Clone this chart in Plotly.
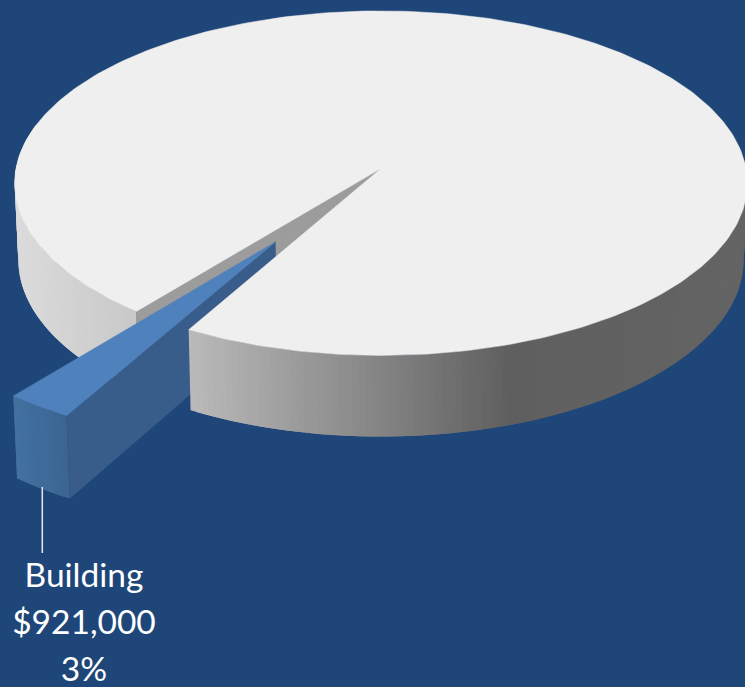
import math
import plotly.graph_objects as go

# Pie data
labels = ["Building", "All other"]
values = [921000, 33900000]
exploded = [0.5, 0.0]
label_lines = ["Building", "$921,000", "3%"]

# Palette
BACKGROUND = "#1F4679"
TOP_GREY = "#EFEFEF"
CUT_GREY = "#9C9C9C"
TOP_BLUE = "#4F81BD"
CUT_BLUE = "#385D8A"
WALL_BLUE_STOPS = [(0.0, (66, 113, 160)), (1.0, (60, 100, 147))]
WALL_GREY_STOPS = [(15, 219), (137, 200), (189, 186), (510, 95), (745, 100)]

# View of the disc: tilted plane seen in perspective
WIDTH, HEIGHT = 745, 687
CX, CY = 381, 168.5
RX, RY = 365, 171
PERSPECTIVE = 0.085
DEPTH = 76
FLOOR_SCALE = 0.99
FIRST_ANGLE = 209.2


def project(u, v, floor=False):
    s = 1 / (1 + PERSPECTIVE * v)
    x = CX + RX * u * s
    y = CY - RY * v * s
    if floor:
        x = CX + (x - CX) * FLOOR_SCALE
        y = CY + (y - CY) * FLOOR_SCALE + DEPTH * s
    return x, y


def polar(theta, radius=1.0, offset=(0.0, 0.0)):
    t = math.radians(theta)
    return offset[0] + radius * math.sin(t), offset[1] + radius * math.cos(t)


def grey_at(x):
    for (x0, g0), (x1, g1) in zip(WALL_GREY_STOPS, WALL_GREY_STOPS[1:]):
        if x <= x1:
            f = max(0.0, (x - x0) / (x1 - x0))
            g = round(g0 + (g1 - g0) * f)
            return f"rgb({g},{g},{g})"
    g = WALL_GREY_STOPS[-1][1]
    return f"rgb({g},{g},{g})"


fig = go.Figure()


def polygon(points, color, edge=0.5):
    xs = [p[0] for p in points] + [points[0][0]]
    ys = [p[1] for p in points] + [points[0][1]]
    fig.add_trace(go.Scatter(
        x=xs, y=ys, mode="lines", fill="toself", fillcolor=color,
        line=dict(color=color, width=edge), hoverinfo="skip",
    ))


def arc(a0, a1, step=1.0, offset=(0.0, 0.0), floor=False):
    n = max(1, int(abs(a1 - a0) / step))
    return [project(*polar(a0 + (a1 - a0) * i / n, offset=offset), floor=floor)
            for i in range(n + 1)]


def band(a0, a1, limit, color_for, offset=(0.0, 0.0)):
    """One wall band; it runs on under the next band so no seam shows."""
    stop = a1 + (a1 - a0)
    stop = min(stop, limit) if a1 > a0 else max(stop, limit)
    top = arc(a0, stop, step=0.5, offset=offset)
    low = arc(a0, stop, step=0.5, offset=offset, floor=True)
    polygon(top + low[::-1], color_for, edge=0)


def wall(a0, a1, step=1.0):
    """Shaded outer wall of the disc, one thin band per step of angle."""
    n = max(1, int(abs(a1 - a0) / step))
    for i in range(n):
        b0 = a0 + (a1 - a0) * i / n
        b1 = a0 + (a1 - a0) * (i + 1) / n
        x0, _ = project(*polar(b0))
        x1, _ = project(*polar(b1))
        band(b0, b1, a1, grey_at((x0 + x1) / 2))


# Slice angles follow from the values
total = sum(values)
sweep = 360 * values[0] / total
a_start = FIRST_ANGLE
a_end = FIRST_ANGLE + sweep
a_mid = (a_start + a_end) / 2
pull = polar(a_mid, exploded[0])

# Large slice, parts lying behind the pulled slice
wall(a_end, 285)
rim = polar(a_end)
polygon([project(0, 0), project(*rim), project(*rim, floor=True), project(0, 0, floor=True)], CUT_GREY)

# Pulled slice: shaded outer face, cut face, top
bands = 10
(_, blue_left), (_, blue_right) = WALL_BLUE_STOPS
for i in range(bands):
    b0 = a_start + sweep * i / bands
    b1 = a_start + sweep * (i + 1) / bands
    f = 1 - (i + 0.5) / bands
    rgb = tuple(round(p + (q - p) * f) for p, q in zip(blue_left, blue_right))
    band(b0, b1, a_end, "rgb(%d,%d,%d)" % rgb, offset=pull)

rim0 = polar(a_start, offset=pull)
polygon([project(*pull), project(*rim0), project(*rim0, floor=True), project(*pull, floor=True)], CUT_BLUE)
polygon([project(*pull)] + arc(a_start, a_end, offset=pull), TOP_BLUE)

# Large slice, near wall and top surface
wall(a_start, 75)
polygon([project(0, 0)] + arc(a_end, a_start + 360), TOP_GREY)

# Leader line and data label
fig.add_trace(go.Scatter(
    x=[42.3, 42.3], y=[487, 553], mode="lines",
    line=dict(color="#E4E9F0", width=1.5), hoverinfo="skip",
))
fig.add_trace(go.Scatter(
    x=[84, 84, 84], y=[579, 626, 673], mode="text", text=label_lines,
    textposition="middle center", cliponaxis=False,
    textfont=dict(family="Lato", size=33.5, color="white"), hoverinfo="skip",
))

fig.update_layout(
    width=WIDTH, height=HEIGHT,
    margin=dict(l=0, r=0, t=0, b=0),
    paper_bgcolor=BACKGROUND, plot_bgcolor=BACKGROUND,
    showlegend=False,
    xaxis=dict(range=[0, WIDTH], visible=False, fixedrange=True),
    yaxis=dict(range=[HEIGHT, 0], visible=False, fixedrange=True),
)
fig.write_html("out.html", config=dict(displayModeBar=False))
